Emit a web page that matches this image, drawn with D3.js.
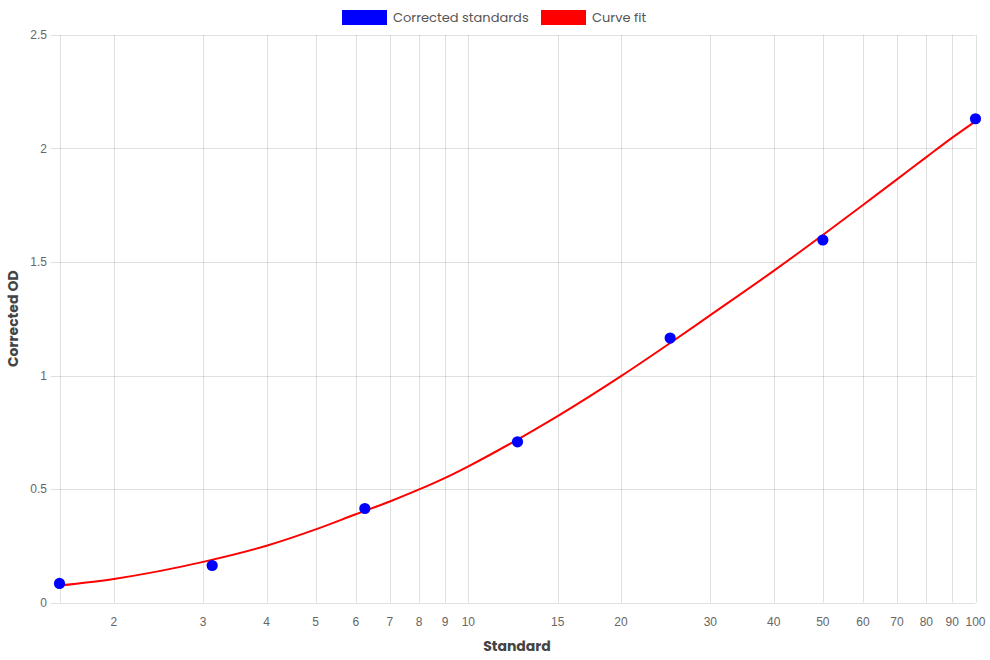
<!DOCTYPE html>
<html>
<head>
<meta charset="utf-8">
<script src="https://cdn.jsdelivr.net/npm/d3@7"></script>
<style>
  html, body { margin: 0; padding: 0; background: #fff; }
  svg { display: block; }
</style>
</head>
<body>
<div id="chart"></div>
<script>
// ---- Data ----
const standards = [1.5625, 3.125, 6.25, 12.5, 25, 50, 100];
const correctedOD = [0.084, 0.163, 0.414, 0.708, 1.165, 1.597, 2.131];

const fitX = [1.5625, 2, 3, 4, 5, 6, 7, 8, 9, 10, 12.5, 15, 20, 25, 30, 40, 50, 60, 70, 80, 90, 100];
const fitY = [0.075, 0.104, 0.179, 0.25, 0.322, 0.389, 0.445, 0.498, 0.549, 0.600, 0.718, 0.821, 0.997, 1.143, 1.266, 1.461, 1.619, 1.751, 1.864, 1.962, 2.048, 2.12];

const xTicks = [2, 3, 4, 5, 6, 7, 8, 9, 10, 15, 20, 30, 40, 50, 60, 70, 80, 90, 100];
const yTicks = [0, 0.5, 1, 1.5, 2, 2.5];

const legendLabels = ["Corrected standards", "Curve fit"];
const legendColors = ["#0000ff", "#ff0000"];

(function () {
// ---- Layout ----
const W = 990, H = 660;
const pLeft = 59.5, pRight = 975.5, pTop = 35, pBottom = 602.5;

const svg = d3.select("#chart").append("svg").attr("width", W).attr("height", H);

const x = d3.scaleLog().domain([1.5625, 100]).range([pLeft, pRight]);
const y = d3.scaleLinear().domain([0, 2.5]).range([pBottom, pTop]);

const gridColor = "rgba(0,0,0,0.12)";
const tickFont = "'Liberation Sans', Arial, Helvetica, sans-serif";
const titleFont = "Poppins, Inter, 'Noto Sans', sans-serif";

// vertical grid lines (at data min + tick values)
const vGrid = [1.5625].concat(xTicks);
svg.append("g").selectAll("line").data(vGrid).join("line")
  .attr("x1", d => Math.round(x(d)) + 0.5).attr("x2", d => Math.round(x(d)) + 0.5)
  .attr("y1", pTop).attr("y2", pBottom)
  .attr("stroke", gridColor).attr("stroke-width", 1);

// horizontal grid lines (extend to left of axis as ticks)
svg.append("g").selectAll("line").data(yTicks).join("line")
  .attr("x1", pLeft - 9).attr("x2", pRight)
  .attr("y1", d => Math.round(y(d)) + 0.5).attr("y2", d => Math.round(y(d)) + 0.5)
  .attr("stroke", gridColor).attr("stroke-width", 1);

// y tick labels
svg.append("g").selectAll("text").data(yTicks).join("text")
  .attr("x", 47).attr("y", d => y(d)).attr("dy", "0.35em")
  .attr("text-anchor", "end")
  .attr("font-family", tickFont).attr("font-size", 12).attr("fill", "#666")
  .text(d => d3.format("~g")(d));

// x tick labels
svg.append("g").selectAll("text").data(xTicks).join("text")
  .attr("x", d => x(d)).attr("y", 622).attr("dy", "0.35em")
  .attr("text-anchor", "middle")
  .attr("font-family", tickFont).attr("font-size", 12).attr("fill", "#666")
  .text(d => d);

// axis titles
svg.append("text").attr("x", 517).attr("y", 646).attr("dy", "0.35em")
  .attr("text-anchor", "middle").attr("font-family", titleFont)
  .attr("font-size", 14).attr("font-weight", "bold").attr("fill", "#444")
  .text("Standard");
svg.append("text").attr("transform", `translate(13,${(pTop + pBottom) / 2}) rotate(-90)`)
  .attr("dy", "0.35em").attr("text-anchor", "middle").attr("font-family", titleFont)
  .attr("font-size", 14).attr("font-weight", "bold").attr("fill", "#444")
  .text("Corrected OD");

// curve fit
const fitData = fitX.map((d, i) => [d, fitY[i]]);
svg.append("path").datum(fitData)
  .attr("fill", "none").attr("stroke", "#ff0000").attr("stroke-width", 2)
  .attr("d", d3.line().x(d => x(d[0])).y(d => y(d[1])).curve(d3.curveMonotoneX));

// points
svg.append("g").selectAll("circle").data(standards).join("circle")
  .attr("cx", d => x(d)).attr("cy", (d, i) => y(correctedOD[i]))
  .attr("r", 5.6).attr("fill", "#0000ff");

// legend
const legendX = [342, 541];
const lg = svg.append("g");
legendLabels.forEach((lab, i) => {
  lg.append("rect").attr("x", legendX[i]).attr("y", 10).attr("width", 45).attr("height", 15)
    .attr("fill", legendColors[i]);
  lg.append("text").attr("x", legendX[i] + 51).attr("y", 17.5).attr("dy", "0.35em")
    .attr("font-family", titleFont).attr("font-size", 13).attr("fill", "#555")
    .text(lab);
});
})();
</script>
</body>
</html>
